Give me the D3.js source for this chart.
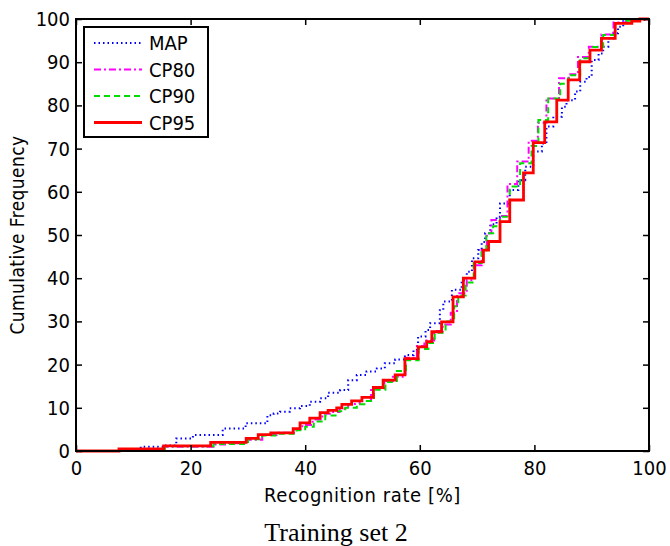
<!DOCTYPE html>
<html>
<head>
<meta charset="utf-8">
<script src="https://cdn.jsdelivr.net/npm/d3@7"></script>
<style>
  body { margin: 0; background: #fff; }
  svg { display: block; }
  .lbl { font-family: "Liberation Sans Narrow", "DejaVu Sans Condensed", "Liberation Sans", sans-serif; }
</style>
</head>
<body>
<div id="chart"></div>
<script>
// step points: [recognition rate, cumulative frequency]
const mapData = [[0,0],[7.8,0.3],[11.3,1],[15.3,1.3],[17.5,2.9],[20.4,3.7],[25.6,5.2],[29.6,6.4],[33.4,8.3],[34.5,8.7],[35.6,9.1],
  [37.3,9.9],[39.1,10.4],[40.8,11.4],[42.6,12.2],[44,13.5],[46.1,14.1],[47.5,16.4],[49,17.6],[50.7,18.4],[52.5,19.1],
  [53.9,20.3],[55.7,21.2],[57.4,22.2],[58.9,23.4],[59.7,26.5],[61,28],[61.8,29.6],[63.5,32.6],[64.1,34.6],[65.6,37.3],
  [67.3,39.5],[68.2,41.5],[69.1,44.6],[70.2,46.5],[70.8,48.4],[71.4,50.4],[72.3,52.5],[73.4,54.2],[74,57.3],[75.7,60.4],
  [77.2,62.7],[78.4,65.8],[79.8,69.3],[81.3,71.2],[82.1,75.1],[83.3,77.4],[84.8,79.7],[85.6,81.2],[87.1,83.2],[88,85.5],
  [89.1,86.6],[90,90.5],[91.2,92],[92,93.6],[92.9,95.5],[93.8,96.7],[94.6,98.2],[95.5,99.8],[100,100]];

const cp80Data = [[0,0],[7.5,0.4],[15.5,1],[24,1.5],[26,1.8],[30,2.6],[32.5,3.7],[35,4.2],[38,5],[39.5,6],[41.3,7.3],
  [43,8.6],[44.5,9],[46,9.8],[47.5,10.9],[49.5,11.6],[51.5,14.5],[53.8,16.2],[55.3,17.2],[57.5,21.6],[59.5,24.3],
  [60.8,25.6],[62.5,27.8],[64,29.3],[65.4,32],[66.5,36.5],[68.2,39.5],[69.5,43],[70.8,46.5],[71.7,50.4],[72.5,53.5],
  [74,54.4],[75.3,61.8],[77,67],[79,71.8],[80.6,76],[82.1,81.6],[84.3,86.3],[86,87.2],[87.6,91.2],[89.5,93.6],
  [91.7,96.4],[93.8,99.2],[96,99.6],[98,100],[100,100]];

const cp90Data = [[0,0],[7.5,0.4],[15.5,1.1],[24,1.6],[30,2.7],[32.5,3.6],[35,4],[38.5,4.8],[40,5.6],[41.5,6.8],
  [43.5,8.2],[45.5,9.2],[47,10],[49,10.8],[50.5,11.6],[52,14.2],[54,16],[56,18.5],[57.6,21],[59.8,23.6],[61.5,25],
  [62.6,27.4],[64.5,30],[66,33.5],[66.7,36],[68,39],[69.4,43.5],[70.8,46],[71.6,50.4],[72.8,52],[74,54.2],[75.7,61.2],
  [77.5,66.6],[79.5,70.6],[80.7,76.6],[82.4,81.6],[84.5,85],[85.9,87],[88,90.9],[89.7,93.5],[92,96.3],[94.1,99.1],
  [96,99.6],[98,100],[100,100]];

const cp95Data = [[0,0],[7.5,0.5],[15.3,1.2],[23.5,2],[29.7,2.9],[31.8,3.8],[34,4.2],[37.9,5.2],[39.1,6.5],[40.8,7.6],
  [42.6,8.9],[44,9.4],[45.5,10],[46.4,10.8],[48.1,11.6],[49.9,12.4],[51.9,14.7],[53.6,16.4],[55.7,17.6],[57.4,21.4],
  [59.7,24.1],[61.2,25.3],[62.1,27.6],[63.8,29.9],[65.8,35.7],[67.6,40],[69.6,43.8],[71.1,46.5],[72,48.5],[74,53.1],
  [75.7,58.1],[78.1,64.4],[79.8,71.4],[81.8,76.2],[83.9,81.2],[85.9,85.9],[87.9,90.1],[89.7,92.8],[91.7,95.5],
  [94.1,99],[97,99.5],[98.4,100],[100,100]];

const seriesNames = ["MAP", "CP80", "CP90", "CP95"];
const xTicks = [0, 20, 40, 60, 80, 100];
const yTicks = [0, 10, 20, 30, 40, 50, 60, 70, 80, 90, 100];

const series = [
  {name: seriesNames[0], data: mapData, color: "#0000ff", dash: "1.5,3", width: 2},
  {name: seriesNames[1], data: cp80Data, color: "#ff00ff", dash: "7,3,2,3", width: 2},
  {name: seriesNames[2], data: cp90Data, color: "#00dd00", dash: "6,4", width: 2},
  {name: seriesNames[3], data: cp95Data, color: "#ff0000", dash: null, width: 2.8}
];

const width = 670, height = 546;
const margin = {left: 76, right: 21, top: 19, bottom: 95};

const svg = d3.select("#chart").append("svg")
  .attr("width", width).attr("height", height);

const x = d3.scaleLinear().domain([0, 100]).range([margin.left, width - margin.right]);
const y = d3.scaleLinear().domain([0, 100]).range([height - margin.bottom, margin.top]);

const line = d3.line()
  .x(d => x(d[0]))
  .y(d => y(d[1]))
  .curve(d3.curveStepAfter);

// series
series.forEach(s => {
  svg.append("path")
    .datum(s.data)
    .attr("fill", "none")
    .attr("stroke", s.color)
    .attr("stroke-width", s.width)
    .attr("stroke-dasharray", s.dash)
    .attr("d", line);
});

// axes, ticks inward on all sides
const tickLen = 6;
svg.append("g")
  .attr("class", "lbl")
  .attr("transform", `translate(0,${y(0)})`)
  .call(d3.axisBottom(x).tickValues(xTicks).tickSizeInner(-tickLen).tickSizeOuter(0).tickPadding(10))
  .call(g => g.select(".domain").remove());
svg.append("g")
  .attr("transform", `translate(0,${y(100)})`)
  .call(d3.axisTop(x).tickValues(xTicks).tickSizeInner(-tickLen).tickSizeOuter(0).tickFormat(""))
  .call(g => g.select(".domain").remove());
svg.append("g")
  .attr("class", "lbl")
  .attr("transform", `translate(${x(0)},0)`)
  .call(d3.axisLeft(y).tickValues(yTicks).tickSizeInner(-tickLen).tickSizeOuter(0).tickPadding(6))
  .call(g => g.select(".domain").remove());
svg.append("g")
  .attr("transform", `translate(${x(100)},0)`)
  .call(d3.axisRight(y).tickValues(yTicks).tickSizeInner(-tickLen).tickSizeOuter(0).tickFormat(""))
  .call(g => g.select(".domain").remove());

svg.selectAll(".tick line").attr("stroke", "#000").attr("stroke-width", 1.5);
svg.selectAll(".tick text")
  .attr("font-family", "Liberation Sans Narrow, DejaVu Sans Condensed, sans-serif")
  .attr("font-size", 20).attr("fill", "#000");

svg.append("rect")
  .attr("x", x(0)).attr("y", y(100))
  .attr("width", x(100) - x(0)).attr("height", y(0) - y(100))
  .attr("fill", "none").attr("stroke", "#000").attr("stroke-width", 2);

// axis titles
svg.append("text")
  .attr("class", "lbl")
  .attr("x", x(50)).attr("y", 502)
  .attr("text-anchor", "middle")
  .attr("font-size", 20)
  .attr("letter-spacing", 0.6)
  .text("Recognition rate [%]");

svg.append("text")
  .attr("class", "lbl")
  .attr("transform", `translate(24,${y(50)}) rotate(-90)`)
  .attr("text-anchor", "middle")
  .attr("font-size", 19)
  .attr("letter-spacing", 0.4)
  .text("Cumulative Frequency");

svg.append("text")
  .attr("x", 336).attr("y", 541)
  .attr("text-anchor", "middle")
  .attr("font-family", "Liberation Serif, serif")
  .attr("font-size", 26)
  .text("Training set 2");

// legend
const legend = svg.append("g").attr("transform", "translate(84,27)");
legend.append("rect")
  .attr("width", 124).attr("height", 110)
  .attr("fill", "#fff").attr("stroke", "#000").attr("stroke-width", 2);
series.forEach((s, i) => {
  const ly = 16 + i * 26.5;
  legend.append("line")
    .attr("x1", 10).attr("x2", 58).attr("y1", ly).attr("y2", ly)
    .attr("stroke", s.color).attr("stroke-width", s.width)
    .attr("stroke-dasharray", s.dash);
  legend.append("text")
    .attr("class", "lbl")
    .attr("x", 65).attr("y", ly + 7)
    .attr("font-size", 20)
    .text(s.name);
});
</script>
</body>
</html>
